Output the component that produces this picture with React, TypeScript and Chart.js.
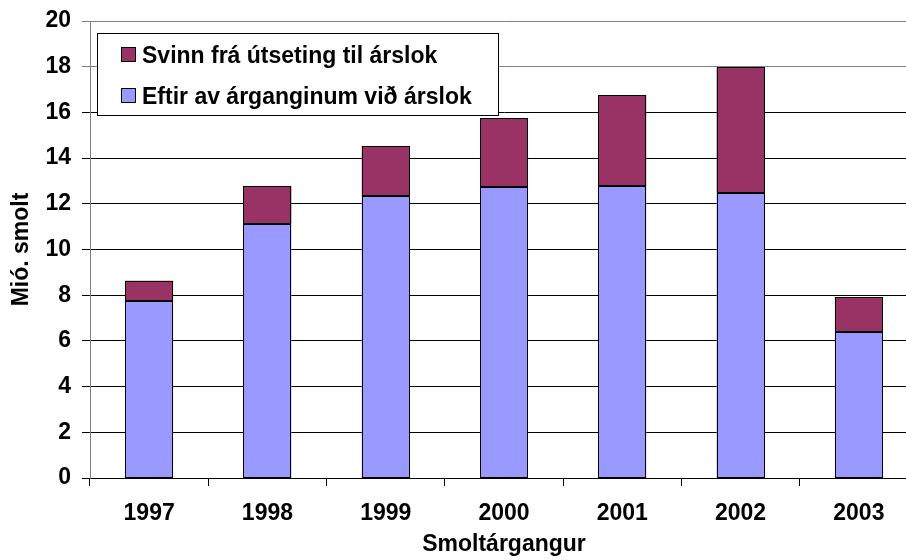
import React, { useEffect, useRef } from "react";
import { Chart, registerables } from "chart.js";

Chart.register(...registerables);

const categories = ["1997", "1998", "1999", "2000", "2001", "2002", "2003"];
const eftirValues = [7.76, 11.13, 12.33, 12.75, 12.78, 12.49, 6.4];
const svinnValues = [0.87, 1.64, 2.2, 2.99, 3.98, 5.48, 1.51];
const eftirLabel = "Eftir av árganginum við árslok";
const svinnLabel = "Svinn frá útseting til árslok";
const yTitle = "Mió. smolt";
const xTitle = "Smoltárgangur";
const yMin = 0;
const yMax = 20;
const yStep = 2;

const FONT_FAMILY = '"Liberation Sans", Arial, Helvetica, sans-serif';
const FONT_SIZE = 23;

const barOutline = {
  id: "barOutline",
  afterDatasetsDraw(chart: any) {
    const { ctx } = chart;
    ctx.save();
    ctx.strokeStyle = "#000000";
    ctx.lineWidth = 1;
    chart.data.datasets.forEach((_: any, di: number) => {
      const meta = chart.getDatasetMeta(di);
      meta.data.forEach((bar: any) => {
        const l = Math.round(bar.x - bar.width / 2) + 0.5;
        const r = Math.round(bar.x + bar.width / 2) - 0.5;
        const t = Math.round(Math.min(bar.y, bar.base)) + 0.5;
        const b = Math.round(Math.max(bar.y, bar.base)) - 0.5;
        ctx.strokeRect(l, t, r - l, b - t);
      });
    });
    ctx.restore();
  },
};

const boxLegend = {
  id: "boxLegend",
  afterDraw(chart: any) {
    const { ctx, chartArea } = chart;
    const x0 = Math.round(chartArea.left) + 7;
    const y0 = Math.round(chartArea.top) + 12;
    const w = 401;
    const h = 82;
    ctx.save();
    ctx.fillStyle = "#ffffff";
    ctx.fillRect(x0, y0, w, h);
    ctx.strokeStyle = "#000000";
    ctx.lineWidth = 1;
    ctx.strokeRect(x0 + 0.5, y0 + 0.5, w, h);
    const items = chart.data.datasets.slice().reverse();
    ctx.font = `bold ${FONT_SIZE}px ${FONT_FAMILY}`;
    ctx.textBaseline = "alphabetic";
    ctx.textAlign = "left";
    items.forEach((ds: any, i: number) => {
      const sy = y0 + 14 + i * 41;
      ctx.fillStyle = ds.backgroundColor;
      ctx.fillRect(x0 + 24, sy, 15, 15);
      ctx.strokeStyle = "#000000";
      ctx.strokeRect(x0 + 24.5, sy + 0.5, 14, 14);
      ctx.fillStyle = "#000000";
      ctx.fillText(ds.label, x0 + 45, sy + 16);
    });
    ctx.restore();
  },
};

export default function App() {
  const canvasRef = useRef<HTMLCanvasElement | null>(null);

  useEffect(() => {
    if (!canvasRef.current) return;
    const font = { family: FONT_FAMILY, size: FONT_SIZE, weight: "bold" as const };
    const chart = new Chart(canvasRef.current, {
      type: "bar",
      data: {
        labels: categories,
        datasets: [
          {
            label: eftirLabel,
            data: eftirValues,
            backgroundColor: "#9999FF",
            borderWidth: 0,
            categoryPercentage: 1,
            barPercentage: 0.405,
          },
          {
            label: svinnLabel,
            data: svinnValues,
            backgroundColor: "#993366",
            borderWidth: 0,
            categoryPercentage: 1,
            barPercentage: 0.405,
          },
        ],
      },
      options: {
        responsive: false,
        animation: false,
        layout: { autoPadding: false, padding: { top: 21, right: 12, left: 0, bottom: 0 } },
        plugins: {
          legend: { display: false },
          tooltip: { enabled: false },
        },
        scales: {
          x: {
            stacked: true,
            offset: true,
            afterFit: (scale: any) => {
              scale.height = 82;
              scale.paddingLeft = 0;
              scale.paddingRight = 0;
            },
            grid: {
              offset: true,
              drawOnChartArea: false,
              drawTicks: true,
              tickLength: 8,
              color: "#000000",
            },
            border: { color: "#000000", width: 1 },
            ticks: { font, color: "#000000", padding: 14, maxRotation: 0 },
            title: {
              display: true,
              text: xTitle,
              font,
              color: "#000000",
              padding: { top: 0, bottom: 2 },
            },
          },
          y: {
            stacked: true,
            min: yMin,
            max: yMax,
            afterFit: (scale: any) => {
              scale.width = 90;
              scale.paddingTop = 0;
              scale.paddingBottom = 0;
            },
            grid: {
              color: (c: any) =>
                c.tick && (c.tick.value === 20 || c.tick.value === 18) ? "#808080" : "#000000",
              tickLength: 8,
              drawTicks: true,
            },
            border: { color: "#808080", width: 1 },
            ticks: { stepSize: yStep, font, color: "#000000", padding: 11 },
            title: {
              display: true,
              text: yTitle,
              font,
              color: "#000000",
              padding: { top: 8, bottom: 0 },
            },
          },
        },
      },
      plugins: [barOutline, boxLegend],
    });
    return () => chart.destroy();
  }, []);

  return (
    <div
      style={{
        position: "fixed",
        left: 0,
        top: 0,
        width: 906,
        height: 560,
        overflow: "hidden",
        background: "#ffffff",
      }}
    >
      <canvas ref={canvasRef} width={930} height={560} style={{ display: "block" }} />
    </div>
  );
}
